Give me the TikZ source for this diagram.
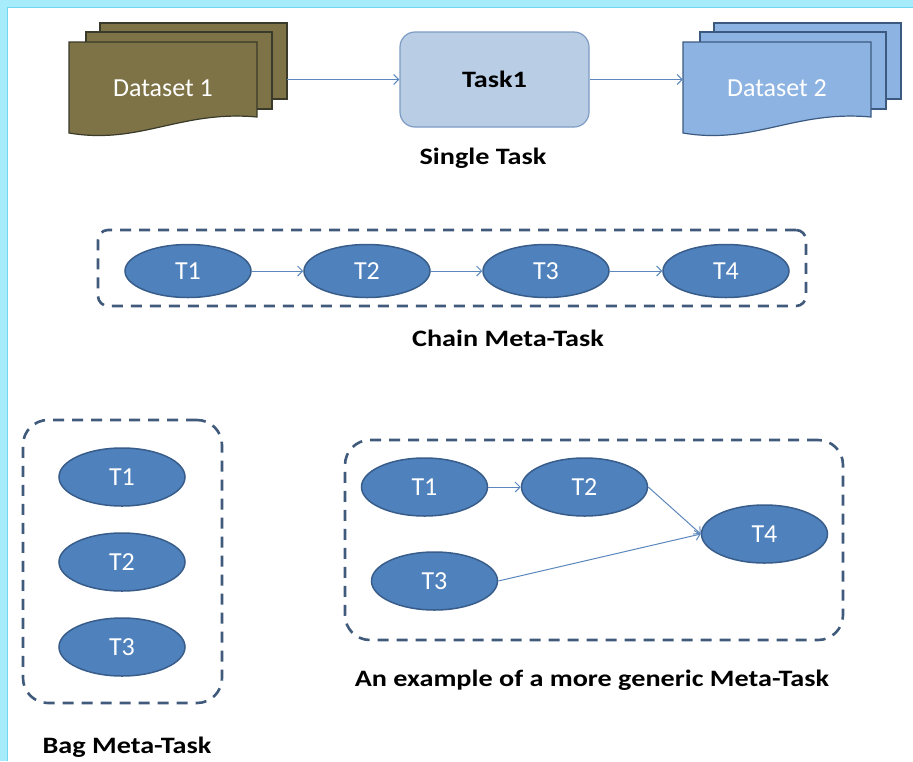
\documentclass[tikz,border=0pt]{standalone}
\usepackage{fontspec}
\setmainfont{Carlito}
\newfontfamily\labfont[FakeStretch=1.2]{Carlito}
\usetikzlibrary{arrows.meta,shapes.geometric}
\definecolor{bgcyan}{HTML}{A6ECFA}
\definecolor{bgline}{HTML}{6ED8F2}
\definecolor{oliveF}{HTML}{7D7346}
\definecolor{oliveD}{HTML}{3A3A2A}
\definecolor{dsblueF}{HTML}{8DB3E2}
\definecolor{dsblueD}{HTML}{3C5A80}
\definecolor{taskF}{HTML}{B9CDE5}
\definecolor{taskD}{HTML}{7E9BC3}
\definecolor{ellF}{HTML}{4F81BD}
\definecolor{ellD}{HTML}{385D8A}
\definecolor{arrC}{HTML}{5B87BD}
\definecolor{dashC}{HTML}{3F5A7A}
\tikzset{
  tnode/.style={ellipse, draw=ellD, fill=ellF, line width=1.5pt, minimum width=126pt, minimum height=58pt, inner sep=0pt, text=white, font=\fontsize{26}{28}\selectfont},
  chainnode/.style={tnode, minimum height=53pt},
  conn/.style={draw=arrC, line width=1pt, -{Straight Barb[length=5pt,width=10pt]}},
  groupbox/.style={draw=dashC, line width=2.6pt, dash pattern=on 11pt off 8pt, rounded corners=25pt, inner sep=0pt},
  caption/.style={font=\labfont\bfseries\fontsize{23.5}{26}\selectfont, inner sep=0pt},
  stackbox/.style={inner sep=0pt, minimum width=218pt, minimum height=110pt},
  dstext/.style={text=white, inner sep=0pt, font=\fontsize{26}{28}\selectfont},
}
\begin{document}
\begin{tikzpicture}[x=1pt,y=-1pt]
\useasboundingbox (0,0) rectangle (913,761);
\fill[bgcyan] (0,0) rectangle (913,761);
\fill[white] (7,7) rectangle (913,761);
\draw[bgline, line width=1pt] (7,761) -- (7,7) -- (913,7);

% Dataset 1 stack
\filldraw[fill=oliveF, draw=oliveD, line width=1.2pt] (100,23) rectangle (287,99);
\filldraw[fill=oliveF, draw=oliveD, line width=1.2pt] (86,32) rectangle (272,109);
\filldraw[fill=oliveF, draw=oliveD, line width=1.2pt] (69,42) -- (257,42) -- (257,117) .. controls (180,110) and (140,145) .. (69,133) -- cycle;
\node[stackbox] (ds1) at (178,78) {};
\node[dstext] (ds1t) at (163,88) {Dataset 1};

% Dataset 2 stack
\filldraw[fill=dsblueF, draw=dsblueD, line width=1.2pt] (714,23) rectangle (901,99);
\filldraw[fill=dsblueF, draw=dsblueD, line width=1.2pt] (700,32) rectangle (886,109);
\filldraw[fill=dsblueF, draw=dsblueD, line width=1.2pt] (683,42) -- (871,42) -- (871,117) .. controls (794,110) and (754,145) .. (683,133) -- cycle;
\node[stackbox] (ds2) at (792,78) {};
\node[dstext] (ds2t) at (777,88) {Dataset 2};

% Task1
\node[draw=taskD, fill=taskF, line width=1.2pt, rounded corners=15pt, minimum width=189pt, minimum height=95pt, inner sep=0pt, font=\labfont\bfseries\fontsize{23.5}{26}\selectfont] (task1) at (494.5,79.5) {Task1};
\draw[conn] (task1.west -| ds1.east) -- (task1.west);
\draw[conn] (task1.east) -- (task1.east -| ds2.west);
\node[caption] (capsingle) at (483,158) {Single Task};

% Chain meta-task
\node[groupbox, rounded corners=10pt, minimum width=708pt, minimum height=76pt] (chainbox) at (452,268) {};
\node[chainnode] (c1) at (188,271) {T1};
\node[chainnode] (c2) at (367,271) {T2};
\node[chainnode] (c3) at (546,271) {T3};
\node[chainnode] (c4) at (726,271) {T4};
\draw[conn] (c1) -- (c2);
\draw[conn] (c2) -- (c3);
\draw[conn] (c3) -- (c4);
\node[caption] (capchain) at (508,338) {Chain Meta-Task};

% Bag meta-task
\node[groupbox, minimum width=199pt, minimum height=283pt] (bagbox) at (122.5,561.5) {};
\node[tnode] (b1) at (122,477) {T1};
\node[tnode] (b2) at (122,562) {T2};
\node[tnode] (b3) at (122,647) {T3};
\node[caption] (capbag) at (127,747) {Bag Meta-Task};

% Generic meta-task
\node[groupbox, minimum width=498pt, minimum height=200pt] (genbox) at (594,540) {};
\node[tnode] (g1) at (424.5,487) {T1};
\node[tnode] (g2) at (584.5,487) {T2};
\node[tnode] (g3) at (434.5,581) {T3};
\node[tnode] (g4) at (764.5,534) {T4};
\draw[conn] (g1) -- (g2);
\draw[conn] (g2.east) -- (g4.west);
\draw[conn] (g3.east) -- (g4.west);
\node[caption] (capgen) at (592,680) {An example of a more generic Meta-Task};
\end{tikzpicture}
\end{document}
